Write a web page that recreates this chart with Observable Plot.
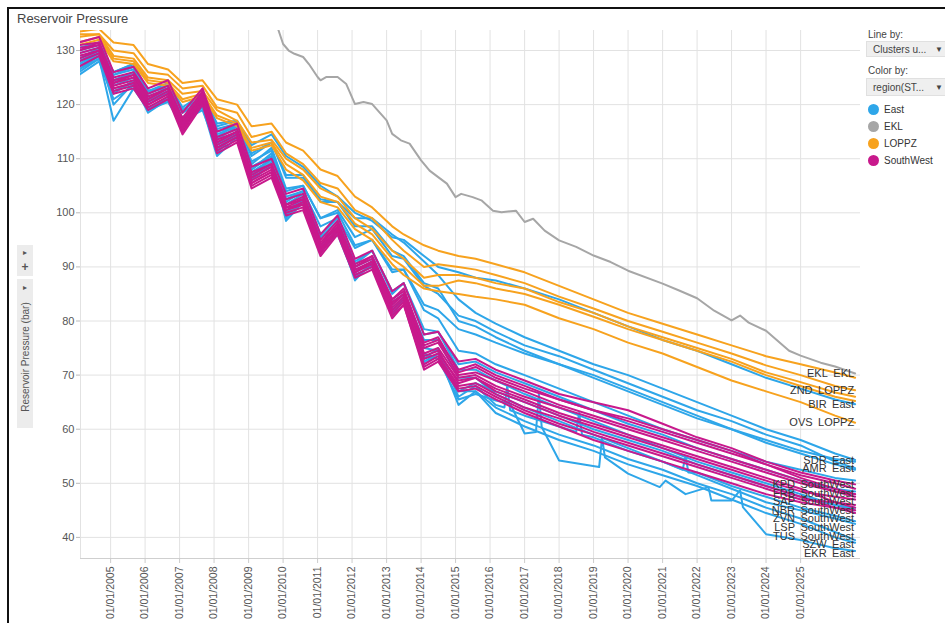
<!DOCTYPE html>
<html><head><meta charset="utf-8">
<script src="https://cdn.jsdelivr.net/npm/d3@7"></script>
<script src="https://cdn.jsdelivr.net/npm/@observablehq/plot@0.6"></script>
<style>
body{margin:0;background:#fff;font-family:"Liberation Sans",Arial,sans-serif;}
#wrap{position:relative;width:945px;height:623px;overflow:hidden;background:#fff;}
#chart{position:absolute;left:0;top:0;}
.frameL{position:absolute;left:7px;top:7px;width:2px;height:620px;background:#111;}
.frameT{position:absolute;left:7px;top:7px;width:940px;height:2px;background:#111;}
#title{position:absolute;left:17px;top:11px;font-size:13px;color:#444;}
.ybox{position:absolute;left:17px;width:16px;background:#ececec;}
.ctl{position:absolute;left:0;width:16px;text-align:center;color:#555;font-size:8px;}
#ylab{position:absolute;left:25px;top:357px;transform:translate(-50%,-50%) rotate(-90deg);white-space:nowrap;font-size:10px;color:#555;}
.lg{position:absolute;left:868px;font-size:10px;color:#444;}
.dd{position:absolute;left:866px;width:79px;height:16px;background:#efefef;border:1px solid #e0e0e0;border-right:none;font-size:10px;color:#444;line-height:16px;padding-left:6px;box-sizing:border-box;}
.dd span{position:absolute;left:68px;top:0;font-size:8px;}
.item{position:absolute;left:868px;font-size:10px;color:#333;height:12px;line-height:12px;}
.item i{display:inline-block;width:11px;height:11px;border-radius:50%;vertical-align:top;margin-right:5px;}
</style></head>
<body><div id="wrap">
<div id="chart"></div>
<div class="frameL"></div><div class="frameT"></div>
<div id="title">Reservoir Pressure</div>
<div class="ybox" style="top:245px;height:31px"><div class="ctl" style="top:3px">&#9656;</div><div class="ctl" style="top:15px;font-size:12px;font-weight:bold">+</div></div>
<div class="ybox" style="top:279px;height:149px"><div class="ctl" style="top:4px">&#9656;</div></div>
<div id="ylab">Reservoir Pressure (bar)</div>
<div class="lg" style="top:29px">Line by:</div>
<div class="dd" style="top:41px">Clusters u...<span>&#9660;</span></div>
<div class="lg" style="top:65px">Color by:</div>
<div class="dd" style="top:78px;height:18px;line-height:18px">region(ST...<span>&#9660;</span></div>
<div id="legend"></div>
</div>
<script>
// ---------- data ----------
const dateStr = ["2004-02","2004-09","2005-02","2005-09","2006-02","2006-09","2007-02","2007-09","2008-02","2008-09","2009-02","2009-09","2010-02","2010-08","2011-02","2011-08","2012-02","2012-08","2013-03","2013-07","2014-02","2014-07","2015-02","2015-08","2016-03","2017-01","2018-01","2019-01","2020-01","2021-01","2022-01","2023-01","2024-01","2025-01","2026-01","2026-08"];
const yTicks = [40,50,60,70,80,90,100,110,120,130];
const xTickYears = [2005,2006,2007,2008,2009,2010,2011,2012,2013,2014,2015,2016,2017,2018,2019,2020,2021,2022,2023,2024,2025];
const regions = ["East","EKL","LOPPZ","SouthWest"];
const regionColors = ["#2ea6e9","#a6a6a6","#f7a21e","#c8198c"];

// EKL (own, finer dates)
const eklDates = ["2009-10","2010-01","2010-03","2010-05","2010-08","2010-10","2011-01","2011-02","2011-04","2011-08","2011-11","2012-02","2012-05","2012-08","2012-10","2013-01","2013-03","2013-06","2013-09","2014-01","2014-04","2014-07","2014-10","2015-01","2015-03","2015-07","2015-10","2016-02","2016-05","2016-10","2017-01","2017-04","2017-08","2018-01","2018-07","2019-01","2019-07","2020-01","2021-01","2021-07","2022-01","2022-07","2023-01","2023-04","2023-07","2024-01","2024-09","2025-01","2025-08","2026-01","2026-08"];
const EKL = [136,131.2,130,129.4,128.8,127.5,125.1,124.5,125.1,125.1,123.8,120.1,120.5,120.1,118.9,117.1,114.6,113.4,112.8,109.7,107.8,106.6,105.4,102.9,103.5,102.9,102.3,100.4,100.1,100.4,98.3,98.9,96.7,94.9,93.7,92.1,90.9,89.3,86.9,85.6,84.2,81.9,80.1,81,79.7,78.2,74.5,73.6,72.3,71.6,70.3];
// LOPPZ
const LOP1 = [133.5,134,131.5,131,127.5,126.5,124,124.5,121,120,116,116.5,113,111.5,108,106.8,103,101,97.5,96,94,93,92,91.5,90.5,89,86.5,84,81.5,79.5,77.5,75.5,73.5,72,70.5,69.5];
const ZND  = [133,133,130,129.5,126,125.5,123,123.5,119.5,118.5,114,115,111,109,105.5,104.5,100.5,99,95,93,90,90.5,90,89.5,88.5,87,84.5,82.3,80,78,76,74,71.8,70,68,67.2];
const LOP3 = [132.5,133,129,128.5,125,124.5,122,122.5,119,117,113,113.5,110,108,104.5,103,99,97,93,91.5,88,88.5,88.5,88,87,86,83.5,81.5,79,77,75,73,70.5,68.7,66.8,66];
const LOP4 = [131.5,132.5,128.5,128,124.5,124,121,122,118,116.5,112,113,109,107,103,102,98,96,91.5,90,86.5,86.5,87.5,87,86,85,83,80.8,78.5,76.5,74.5,72.5,70,68,66,65.2];
const OVS  = [131,132,128,127.5,124,123.5,120.5,121.5,117.5,116,111.5,112.5,108,106,102,101,97,95,90.5,88.5,86,85.5,85,84.5,84,83,80.5,78.5,76,74,71.5,69,67,65,62.5,61.2];
// East
const BIR  = [128.5,130.5,126,127.5,122.5,124,119.5,122,116.5,117,112.5,114.5,110.5,108.5,105,103,100,98.5,95.5,95,92,90,89,88,87.5,86,84,81.5,79,76.5,74.5,72,69.5,67.5,65.5,64.6];
const SDR  = [128,130,126,127.5,122,123.5,119,121.5,115.5,116.5,110.5,113,106.5,106.5,102.5,102,99,99,96,94.5,91,88.5,84,81.5,79.5,77,74.5,72,70,67.5,65,62.5,60,58,55.5,54.3];
const AMR  = [127,129.5,125.5,126.5,121.5,123,118.5,121,115,116,109.5,111.5,104,105,99,100.5,95.5,97,92,91.5,86.5,85,81,80,78,75.5,73.5,71,68.5,66,63.5,61.5,59,57,54,52.8];
const E4   = [126.5,129,124,126,121,122.5,117.5,120.5,114,115.5,108,110.5,103,104,97.5,99,93.5,95,89,89.5,83,82,78.5,77.5,76,74,72,70,67.5,65,62.5,60,57.5,55.5,53.5,52.5];
const E5   = [130,131,125.5,127,122.5,123,118.5,121,114.5,116,108.5,110.5,102,104,96,99,91,93,85.5,87,78.5,78,72,72.5,70.5,68.5,66,63.5,61,59,56.5,54.5,52.5,50.5,49,48.5];
const E6   = [128.5,130,124.5,126,121,122,117.5,120.5,113,114.5,107,109,100,102,93,97,88,90.5,81,84,72.5,74,67,68.5,67,65,62.5,60,58,56,53.5,51.5,49.5,47.5,46,45.5];
// spiky East wells: grid values up to 2015-08, then their own finer dates
const E7pre  = [127,129,122,124.5,119.5,121,116.5,120,111.5,114.5,106,109,99,102.5,92.5,97,87.5,91,81,84.5,73,75,66,68];
const E7postDates = ["2016-03","2016-06","2016-07","2016-08","2017-01","2018-01","2018-07","2018-08","2018-09","2019-01","2020-01","2021-01","2021-08","2021-09","2021-10","2022-01","2023-01","2024-01","2025-01","2026-01","2026-08"];
const E7post = [64.5,64,68,63.5,62.5,60.5,59.5,63,59,58.5,56,54,52.5,55,52,52,49.5,47.5,45.5,44,43];
const EKRpre = [126,128.5,117,123,119,120.5,116,119.5,110.5,114,106,109.5,98.5,102,93,96,88,90.5,82,84.5,74,73,65.5,66.5];
const EKRpostDates = ["2016-03","2016-08","2017-01","2017-05","2017-06","2017-07","2018-01","2019-03","2019-04","2019-05","2020-01","2020-12","2021-02","2021-09","2022-05","2022-06","2023-01","2023-04","2023-05","2024-01","2025-01","2026-01","2026-08"];
const EKRpost = [65.3,64.7,59.2,59.5,66.5,60.4,54.2,53,58.5,54.8,51.8,49.3,50.5,48,49.3,46.8,46.8,48.7,45.6,40.6,39.5,38,37.5];
const SZW  = [125.5,128,121,123.5,119.5,120.5,117,119,112,114.5,107.5,110,100,103,94,96.5,89,91,83,85,75,74.5,67,67,64,61.5,59,57,54.5,52.5,50,48,45.5,43.5,41,39.5];
const E10  = [129.5,130.5,124.5,125.5,120.5,122,117,120,113.5,116,108,111,102.5,104,95.5,98.5,90.5,93,85,87,77.5,78,71,71,69,66.5,64,61.5,59,56.5,54,52,50,48,46,45];
const E11  = [128,129.5,123.5,125,120.5,122.5,117.5,121,114,116.5,109,112,104.5,105,99,100,94,95,89.5,89.5,82,80.5,74.5,74,72,70,67.5,65,62.5,60,58,56,54,52.5,51,50.5];
const E12  = [126.5,128.5,122.5,124,119,121.5,116.5,120,112.5,115,107,110,101.5,103.5,95.5,97,90,91.5,83.5,85,76.5,76.5,69.5,69.5,66.5,64,61.5,59,56.5,54,51.5,49,46.5,45,43.5,42.5];
const E13  = [130.5,131.5,126,127,122.5,123.5,119,121.5,116,117,111,113,107,107,102,102,97.5,97.5,93,92,87,86,80,79,77,74.5,72,69.5,67,64.5,62,60,58,56,54.5,54];
const E14  = [127.5,129.5,120,124,118.5,121,116,120,111,115,106.5,110,99.5,103,93.5,97,88.5,90,81.5,84,72,74,64.5,67,63,60.5,58,56,53.5,51.5,49.5,47,44.5,42.5,40,39];
// SouthWest
const KPD  = [131.5,132.5,126,127,123,124.5,118.5,123,115,116.5,108.5,110,103.5,104.5,96,99.5,91.5,93,85.5,87,77.5,78,72.5,73,71,69,66.5,65,63.5,61,58.5,56.5,54,52,50.5,49.8];
const FRB  = [131,131.5,125,126,122,123.5,117.5,122.5,114,115.5,107.5,109,102.5,103.5,95,98.5,90.5,92,84,85.5,75.5,76.5,71,72,70,68,65.5,63.5,61.5,59.5,57.5,55.5,53.5,51.5,50,49];
const SAP  = [130,131,124,125,121,123,116.5,122,113,115,106.5,108.5,101.5,102.5,94,97.5,89.5,91,83,85,74,75,69.5,70,68,66,64,62,60,58,56,54,52,50,48.5,48];
const NBR  = [130.5,131,124.5,125.5,121.5,123,117,122,113.5,115,107,109,101,102.5,94.5,98,90,91.5,83.5,85,75,76,70,70.5,69,67,64.5,62.5,60.5,58.5,56.5,54.5,52.5,50.5,48.5,47.5];
const ZVN  = [129,130,123,124,120,122,115.5,121,112,114,105.5,107.5,100.5,101.5,93,97,89,90.5,82,84,73,74,69,69.5,67,65,62.5,60.5,58.5,56.5,54.5,52.5,50.5,48.5,47.5,47];
const LSP  = [128,129.5,122.5,123.5,119.5,121.5,115,120.5,111.5,113.5,105,107,100,101,92.5,96.5,88.5,90,81,83,71.5,73,67.5,68,66,63.5,61,59,57,55,53,51,49,47,46.5,46];
const TUS  = [127,129,122,123,119,121,114.5,120,111,113,104.5,106.5,99.5,100.5,92,96,88,89.5,80.5,83,71,72.5,67,67.5,65.5,63,60.5,58,56,54,52,50,48,46.5,45.5,45];
const SW8  = [129.5,130.5,123,124,120,122,115.5,121.5,112.5,114.5,106,108,100.5,102,93.5,97,89,91,82.5,84.5,73.5,74.5,68.5,69.5,67.5,65.5,63,61,59,57,55,53,51,49,46.5,45.5];
const SW9  = [128.5,130,123.5,124.5,120.5,122.5,116,121,112,114,105.5,107.5,101,101.5,93,97,89.5,90.5,81.5,83.5,72,73.5,68,68.5,66.5,64,62,59.5,57.5,55.5,53.5,51.5,49.5,47.5,45.5,44.5];
const SW10 = [130,131.5,124,125.5,121,123,116.5,121.5,113,115,106.5,108.5,101.5,103,94,98,90,92,84,86,76,77,70.5,71.5,69.5,67.5,65.5,63.5,62,60,58,56,53.5,51,49,48];

const gridPre = dateStr.slice(0, 24);
// draw order: East, LOPPZ, SouthWest, EKL ; [name, region, values, labelled, own dates]
const lineDefs = [
  ["BIR","East",BIR,true],["SDR","East",SDR,true],["AMR","East",AMR,true],["E4","East",E4,false],
  ["E5","East",E5,false],["E6","East",E6,false],
  ["E7","East",E7pre.concat(E7post),false,gridPre.concat(E7postDates)],
  ["EKR","East",EKRpre.concat(EKRpost),true,gridPre.concat(EKRpostDates)],
  ["SZW","East",SZW,true],["E10","East",E10,false],["E11","East",E11,false],["E12","East",E12,false],
  ["E13","East",E13,false],["E14","East",E14,false],
  ["LOP1","LOPPZ",LOP1,false],["ZND","LOPPZ",ZND,true],["LOP3","LOPPZ",LOP3,false],["LOP4","LOPPZ",LOP4,false],["OVS","LOPPZ",OVS,true],
  ["KPD","SouthWest",KPD,true],["FRB","SouthWest",FRB,true],["SAP","SouthWest",SAP,true],["NBR","SouthWest",NBR,true],
  ["ZVN","SouthWest",ZVN,true],["LSP","SouthWest",LSP,true],["TUS","SouthWest",TUS,true],
  ["SW8","SouthWest",SW8,false],["SW9","SouthWest",SW9,false],["SW10","SouthWest",SW10,false],
  ["EKL","EKL",EKL,true,eklDates]
];

// ---------- build ----------
const parse = d3.utcParse("%Y-%m");
const dates = dateStr.map(parse);
const rows = [];
const labelsRaw = [];
for (const [name, region, vals, lab, own] of lineDefs) {
  const ds = own ? own.map(parse) : dates;
  vals.forEach((v, i) => { if (v != null) rows.push({id: name, region, date: ds[i], value: v}); });
  if (lab) labelsRaw.push({text: name + "\u2002" + region, date: ds[vals.length - 1], y: vals[vals.length - 1]});
}
const yDomain = [36.1, 133.7];
const xDomain = [new Date(Date.UTC(2004,1,17)), new Date(Date.UTC(2026,8,27))];
const xTicks = xTickYears.map(y => new Date(Date.UTC(y,0,1)));

// end labels, stacked downward so they do not collide
const plotH = 623 - 30 - 65;
const minGap = 8.6 * (yDomain[1] - yDomain[0]) / plotH;
const labels = labelsRaw.sort((a, b) => b.y - a.y);
for (let i = 1; i < labels.length; i++) {
  if (labels[i].y > labels[i-1].y - minGap) labels[i].y = labels[i-1].y - minGap;
}

const chart = Plot.plot({
  width: 945, height: 623,
  marginLeft: 80, marginRight: 85, marginTop: 30, marginBottom: 65,
  style: {fontFamily: "'Liberation Sans', Arial, sans-serif", fontSize: "11px", color: "#555", background: "transparent"},
  x: {type: "utc", domain: xDomain},
  y: {domain: yDomain},
  color: {domain: regions, range: regionColors},
  marks: [
    Plot.gridY(yTicks, {stroke: "#e2e2e2", strokeOpacity: 1}),
    Plot.gridX(xTicks, {stroke: "#e2e2e2", strokeOpacity: 1}),
    Plot.ruleY([yDomain[0]], {stroke: "#cfcfcf"}),
    Plot.ruleX([xDomain[0]], {stroke: "#e2e2e2"}),
    Plot.axisY(yTicks, {tickSize: 4, tickPadding: 2, stroke: "#bbb", fill: "#555", fontSize: 11}),
    Plot.axisX(xTicks, {tickFormat: d3.utcFormat("%m/%d/%Y"), tickRotate: -90, tickSize: 5, tickPadding: 3, stroke: "#ccc", fill: "#555", fontSize: 10.5}),
    Plot.line(rows, {x: "date", y: "value", z: "id", stroke: "region", strokeWidth: 2, clip: true, curve: "linear"}),
    Plot.text(labels, {x: "date", y: "y", text: "text", textAnchor: "end", dx: -1, fontSize: 11, fill: "#333"})
  ]
});
document.getElementById("chart").appendChild(chart);

// legend
const lg = document.getElementById("legend");
regions.forEach((r, i) => {
  const d = document.createElement("div");
  d.className = "item";
  d.style.top = (104 + i * 17) + "px";
  d.innerHTML = `<i style="background:${regionColors[i]}"></i>${r}`;
  lg.appendChild(d);
});
</script>
</body></html>
